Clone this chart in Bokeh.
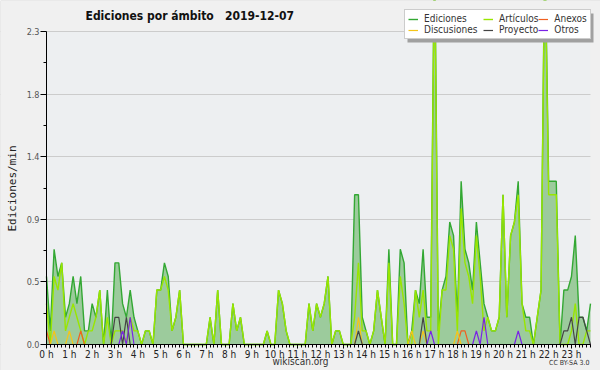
import math
from bokeh.plotting import figure
from bokeh.models import (ColumnDataSource, FixedTicker, PrintfTickFormatter,
                          Legend, LegendItem, Label, Range1d, BoxAnnotation)
from bokeh.embed import file_html
from bokeh.resources import INLINE

# time of each 10-minute bin (minutes after midnight)
minutes = list(range(0, 1440, 10))

ediciones = [
    0.5, 0.1, 0.7, 0.5, 0.6, 0.2, 0.3, 0.5, 0.3, 0.5, 0.1, 0.1,
    0.3, 0.2, 0.4, 0.0, 0.4, 0.0, 0.6, 0.6, 0.3, 0.2, 0.4, 0.2,
    0.1, 0.0, 0.1, 0.1, 0.0, 0.4, 0.4, 0.6, 0.5, 0.1, 0.2, 0.4,
    0.0, 0.0, 0.0, 0.0, 0.0, 0.0, 0.0, 0.2, 0.0, 0.4, 0.0, 0.0,
    0.0, 0.3, 0.1, 0.2, 0.0, 0.0, 0.0, 0.0, 0.0, 0.0, 0.1, 0.0,
    0.0, 0.4, 0.3, 0.1, 0.0, 0.0, 0.0, 0.0, 0.0, 0.3, 0.1, 0.3,
    0.2, 0.3, 0.5, 0.0, 0.1, 0.1, 0.0, 0.0, 0.0, 1.1, 1.1, 0.2,
    0.1, 0.0, 0.1, 0.4, 0.2, 0.0, 0.7, 0.0, 0.0, 0.7, 0.6, 0.0,
    0.1, 0.4, 0.3, 0.7, 0.2, 0.2, 3.0, 0.1, 0.4, 0.5, 0.9, 0.8,
    0.2, 1.2, 0.7, 0.6, 0.4, 0.9, 0.6, 0.3, 0.2, 0.1, 0.1, 0.2,
    1.1, 0.2, 0.8, 0.9, 1.2, 0.3, 0.2, 0.2, 0.0, 0.2, 0.4, 3.0,
    1.2, 1.2, 1.2, 0.0, 0.4, 0.4, 0.5, 0.8, 0.2, 0.2, 0.1, 0.3,
]

articulos = [
    0.3, 0.0, 0.5, 0.4, 0.6, 0.1, 0.2, 0.3, 0.2, 0.1, 0.0, 0.1,
    0.1, 0.2, 0.4, 0.0, 0.2, 0.0, 0.1, 0.1, 0.1, 0.0, 0.2, 0.1,
    0.1, 0.0, 0.1, 0.1, 0.0, 0.4, 0.4, 0.5, 0.4, 0.1, 0.2, 0.4,
    0.0, 0.0, 0.0, 0.0, 0.0, 0.0, 0.0, 0.2, 0.0, 0.4, 0.0, 0.0,
    0.0, 0.3, 0.1, 0.2, 0.0, 0.0, 0.0, 0.0, 0.0, 0.0, 0.1, 0.0,
    0.0, 0.4, 0.3, 0.1, 0.0, 0.0, 0.0, 0.0, 0.0, 0.3, 0.1, 0.3,
    0.2, 0.3, 0.5, 0.0, 0.1, 0.1, 0.0, 0.0, 0.0, 0.2, 0.6, 0.1,
    0.1, 0.0, 0.1, 0.4, 0.2, 0.0, 0.6, 0.0, 0.0, 0.5, 0.3, 0.0,
    0.0, 0.4, 0.2, 0.4, 0.1, 0.1, 2.9, 0.0, 0.4, 0.4, 0.8, 0.7,
    0.1, 1.0, 0.6, 0.5, 0.3, 0.8, 0.5, 0.1, 0.2, 0.1, 0.1, 0.2,
    1.1, 0.2, 0.8, 0.9, 1.1, 0.3, 0.1, 0.1, 0.0, 0.2, 0.4, 2.9,
    1.1, 1.1, 1.1, 0.0, 0.0, 0.0, 0.1, 0.3, 0.0, 0.0, 0.1, 0.1,
]

anexos = [
    0.1, 0.0, 0.0, 0.0, 0.0, 0.0, 0.0, 0.0, 0.0, 0.1, 0.0, 0.0,
    0.0, 0.0, 0.0, 0.0, 0.0, 0.0, 0.0, 0.0, 0.0, 0.0, 0.0, 0.0,
    0.0, 0.0, 0.0, 0.0, 0.0, 0.0, 0.0, 0.0, 0.0, 0.0, 0.0, 0.0,
    0.0, 0.0, 0.0, 0.0, 0.0, 0.0, 0.0, 0.0, 0.0, 0.0, 0.0, 0.0,
    0.0, 0.0, 0.0, 0.0, 0.0, 0.0, 0.0, 0.0, 0.0, 0.0, 0.0, 0.0,
    0.0, 0.0, 0.0, 0.0, 0.0, 0.0, 0.0, 0.0, 0.0, 0.0, 0.0, 0.0,
    0.0, 0.0, 0.0, 0.0, 0.0, 0.0, 0.0, 0.0, 0.0, 0.0, 0.0, 0.0,
    0.0, 0.0, 0.0, 0.0, 0.0, 0.0, 0.0, 0.0, 0.0, 0.0, 0.0, 0.0,
    0.0, 0.0, 0.0, 0.0, 0.0, 0.0, 0.0, 0.0, 0.0, 0.0, 0.0, 0.0,
    0.0, 0.1, 0.1, 0.0, 0.0, 0.0, 0.0, 0.0, 0.0, 0.0, 0.0, 0.0,
    0.0, 0.0, 0.0, 0.0, 0.0, 0.0, 0.0, 0.0, 0.0, 0.0, 0.0, 0.0,
    0.0, 0.0, 0.0, 0.0, 0.0, 0.0, 0.0, 0.0, 0.0, 0.0, 0.0, 0.0,
]

discusiones = [
    0.0, 0.0, 0.1, 0.0, 0.0, 0.0, 0.1, 0.0, 0.0, 0.0, 0.0, 0.0,
    0.0, 0.0, 0.0, 0.0, 0.0, 0.0, 0.0, 0.0, 0.0, 0.0, 0.0, 0.0,
    0.0, 0.0, 0.0, 0.0, 0.0, 0.0, 0.0, 0.0, 0.0, 0.0, 0.0, 0.0,
    0.0, 0.0, 0.0, 0.0, 0.0, 0.0, 0.0, 0.0, 0.0, 0.0, 0.0, 0.0,
    0.0, 0.0, 0.0, 0.0, 0.0, 0.0, 0.0, 0.0, 0.0, 0.0, 0.0, 0.0,
    0.0, 0.0, 0.0, 0.0, 0.0, 0.0, 0.0, 0.0, 0.0, 0.0, 0.0, 0.0,
    0.0, 0.0, 0.0, 0.0, 0.0, 0.0, 0.0, 0.0, 0.0, 0.0, 0.2, 0.0,
    0.0, 0.0, 0.0, 0.0, 0.0, 0.0, 0.0, 0.0, 0.0, 0.0, 0.0, 0.0,
    0.1, 0.0, 0.0, 0.1, 0.0, 0.0, 0.0, 0.0, 0.0, 0.0, 0.0, 0.0,
    0.1, 0.0, 0.0, 0.0, 0.0, 0.0, 0.0, 0.0, 0.0, 0.0, 0.0, 0.0,
    0.0, 0.0, 0.0, 0.0, 0.0, 0.0, 0.0, 0.0, 0.0, 0.0, 0.0, 0.0,
    0.0, 0.0, 0.0, 0.0, 0.0, 0.0, 0.0, 0.0, 0.0, 0.0, 0.0, 0.0,
]

proyecto = [
    0.0, 0.0, 0.0, 0.0, 0.0, 0.0, 0.0, 0.0, 0.0, 0.0, 0.0, 0.0,
    0.0, 0.0, 0.0, 0.0, 0.0, 0.0, 0.2, 0.2, 0.0, 0.2, 0.0, 0.0,
    0.0, 0.0, 0.0, 0.0, 0.0, 0.0, 0.0, 0.0, 0.0, 0.0, 0.0, 0.0,
    0.0, 0.0, 0.0, 0.0, 0.0, 0.0, 0.0, 0.0, 0.0, 0.0, 0.0, 0.0,
    0.0, 0.0, 0.0, 0.0, 0.0, 0.0, 0.0, 0.0, 0.0, 0.0, 0.0, 0.0,
    0.0, 0.0, 0.0, 0.0, 0.0, 0.0, 0.0, 0.0, 0.0, 0.0, 0.0, 0.0,
    0.0, 0.0, 0.0, 0.0, 0.0, 0.0, 0.0, 0.0, 0.0, 0.0, 0.1, 0.0,
    0.0, 0.0, 0.0, 0.0, 0.0, 0.0, 0.0, 0.0, 0.0, 0.0, 0.0, 0.0,
    0.0, 0.0, 0.0, 0.2, 0.0, 0.0, 0.0, 0.0, 0.0, 0.0, 0.0, 0.0,
    0.0, 0.0, 0.0, 0.0, 0.0, 0.0, 0.0, 0.0, 0.0, 0.0, 0.0, 0.0,
    0.0, 0.0, 0.0, 0.0, 0.0, 0.0, 0.0, 0.0, 0.0, 0.0, 0.0, 0.0,
    0.0, 0.0, 0.0, 0.0, 0.1, 0.1, 0.2, 0.0, 0.2, 0.2, 0.1, 0.0,
]

otros = [
    0.0, 0.0, 0.0, 0.0, 0.0, 0.0, 0.0, 0.0, 0.0, 0.0, 0.0, 0.0,
    0.0, 0.0, 0.0, 0.0, 0.0, 0.0, 0.0, 0.0, 0.1, 0.0, 0.2, 0.0,
    0.0, 0.0, 0.0, 0.0, 0.0, 0.0, 0.0, 0.0, 0.0, 0.0, 0.0, 0.0,
    0.0, 0.0, 0.0, 0.0, 0.0, 0.0, 0.0, 0.0, 0.0, 0.0, 0.0, 0.0,
    0.0, 0.0, 0.0, 0.0, 0.0, 0.0, 0.0, 0.0, 0.0, 0.0, 0.0, 0.0,
    0.0, 0.0, 0.0, 0.0, 0.0, 0.0, 0.0, 0.0, 0.0, 0.0, 0.0, 0.0,
    0.0, 0.0, 0.0, 0.0, 0.0, 0.0, 0.0, 0.0, 0.0, 0.0, 0.0, 0.0,
    0.0, 0.0, 0.0, 0.0, 0.0, 0.0, 0.0, 0.0, 0.0, 0.0, 0.0, 0.0,
    0.0, 0.0, 0.0, 0.0, 0.0, 0.1, 0.0, 0.0, 0.0, 0.0, 0.0, 0.0,
    0.0, 0.0, 0.0, 0.0, 0.0, 0.1, 0.0, 0.2, 0.0, 0.0, 0.0, 0.0,
    0.0, 0.0, 0.0, 0.0, 0.1, 0.0, 0.0, 0.0, 0.0, 0.0, 0.0, 0.0,
    0.0, 0.0, 0.0, 0.0, 0.0, 0.0, 0.0, 0.0, 0.0, 0.0, 0.0, 0.0,
]

hour_ticks = list(range(24))
y_ticks = [0.0, 0.46, 0.92, 1.38, 1.84, 2.3]
y_minor = [0.23, 0.69, 1.15, 1.61, 2.07]
Y_MAX = 2.3

FONT = "DejaVu Sans Condensed"
BG_OUT = "#f0f0f0"
BG_PLOT = "#edeff1"

hours = [m / 60 for m in minutes]
X_END = hours[-1]
src = ColumnDataSource(dict(h=hours, ed=ediciones, art=articulos, anx=anexos,
                            dis=discusiones, pro=proyecto, otr=otros))

# layout in pixels (figure is W x H; plot area spans L..W-R and T..H-B)
W, H = 600, 370
L, R, T, B = 46, 10, 31, 26
px_x = (W - L - R) / X_END
px_y = (H - T - B) / Y_MAX


def to_x(px):
    return (px - L) / px_x


def to_y(py):
    return (H - B - py) / px_y


p = figure(width=W, height=H, output_backend="svg", toolbar_location=None,
           x_range=Range1d(to_x(0), to_x(W)), y_range=Range1d(to_y(H), to_y(0)),
           min_border=0, title=None)
p.background_fill_color = BG_OUT
p.border_fill_color = BG_OUT
p.outline_line_color = None

# plot-area background (drawn before the grid)
plot_bg = BoxAnnotation(left=0, right=X_END, bottom=0, top=Y_MAX,
                        fill_color=BG_PLOT, fill_alpha=1, line_color=None,
                        level="underlay")
p.center = [plot_bg] + list(p.center)

p.varea(x="h", y1=0, y2="ed", source=src, fill_color="#9ccb9c")
r_ed = p.line("h", "ed", source=src, line_color="#33a833", line_width=1.4)
r_art = p.line("h", "art", source=src, line_color="#99e600", line_width=1.4)
r_anx = p.line("h", "anx", source=src, line_color="#f06020", line_width=1.2)
r_dis = p.line("h", "dis", source=src, line_color="#f5c518", line_width=1.2)
r_pro = p.line("h", "pro", source=src, line_color="#444444", line_width=1.2)
r_otr = p.line("h", "otr", source=src, line_color="#7a22e6", line_width=1.2)

# grid lines only within the plot area: mask the side margins (under the axes)
p.xgrid.grid_line_color = None
p.ygrid.grid_line_color = "#cccccc"
p.ygrid.ticker = FixedTicker(ticks=y_ticks)
p.add_layout(BoxAnnotation(right=0, fill_color=BG_OUT, fill_alpha=1,
                           line_color=None, level="underlay"))
p.add_layout(BoxAnnotation(left=X_END, fill_color=BG_OUT, fill_alpha=1,
                           line_color=None, level="underlay"))
# clip the peaks at the top of the value range
p.add_layout(BoxAnnotation(left=0, bottom=Y_MAX + 0.004, fill_color=BG_OUT,
                           fill_alpha=1, line_color=None))

# axes placed at the data origin
xa = p.xaxis[0]
xa.fixed_location = 0
xa.bounds = (0, X_END)
xa.ticker = FixedTicker(ticks=hour_ticks, minor_ticks=hours)
xa.formatter = PrintfTickFormatter(format="%d h")
xa.major_label_text_font = FONT
xa.major_label_text_font_size = "10px"
xa.major_label_text_color = "#222222"
xa.major_label_standoff = 0
xa.major_tick_out = 4
xa.major_tick_in = 0
xa.minor_tick_out = 3
xa.minor_tick_in = 0
xa.axis_line_color = "black"

ya = p.yaxis[0]
ya.fixed_location = 0
ya.bounds = (0, Y_MAX)
ya.ticker = FixedTicker(ticks=y_ticks, minor_ticks=y_minor)
ya.formatter = PrintfTickFormatter(format="%.1f")
ya.major_label_text_font = FONT
ya.major_label_text_font_size = "9px"
ya.major_label_text_color = "#555555"
ya.major_label_standoff = 1
ya.major_tick_out = 6
ya.major_tick_in = 0
ya.minor_tick_out = 3
ya.minor_tick_in = 0

p.add_layout(Label(x=12, y=H - 188, x_units="screen", y_units="screen",
                   text="Ediciones/min", angle=math.pi / 2,
                   text_font="DejaVu Sans Mono", text_font_size="11px",
                   text_color="#222222", text_align="center",
                   text_baseline="middle"))

# legend shadow, then the legend box itself
LEG_X0, LEG_Y_TOP, LEG_X1, LEG_Y_BOT = 404, 10, 590, 39
p.add_layout(BoxAnnotation(left=to_x(LEG_X0 + 3), right=to_x(LEG_X1 + 3),
                           top=to_y(LEG_Y_TOP + 3), bottom=to_y(LEG_Y_BOT + 3),
                           fill_color="#a0a0a0", fill_alpha=1, line_color=None))

legend = Legend(items=[
    LegendItem(label="Ediciones", renderers=[r_ed]),
    LegendItem(label="Discusiones\u00a0\u00a0", renderers=[r_dis]),
    LegendItem(label="Artículos", renderers=[r_art]),
    LegendItem(label="Proyecto", renderers=[r_pro]),
    LegendItem(label="Anexos", renderers=[r_anx]),
    LegendItem(label="Otros", renderers=[r_otr]),
], location=(LEG_X0, H - LEG_Y_BOT), orientation="vertical", nrows=2)
legend.background_fill_color = "white"
legend.background_fill_alpha = 1.0
legend.border_line_color = "#999999"
legend.label_text_font = FONT
legend.label_text_font_size = "10px"
legend.label_text_color = "#333333"
legend.label_height = 10
legend.glyph_height = 10
legend.glyph_width = 10
legend.label_standoff = 6
legend.spacing = 0
legend.padding = 3
legend.margin = 0
p.add_layout(legend)

p.add_layout(Label(x=85, y=H - 15, x_units="screen", y_units="screen",
                   text="Ediciones por ámbito\u00a0\u00a0 2019-12-07",
                   text_font=FONT, text_font_size="12px", text_font_style="bold",
                   text_color="#111111", text_baseline="middle"))
p.add_layout(Label(x=300, y=H - 361, x_units="screen", y_units="screen",
                   text="wikiscan.org", text_font=FONT, text_font_size="10px",
                   text_color="#333333", text_align="center",
                   text_baseline="middle"))
p.add_layout(Label(x=589, y=H - 362, x_units="screen", y_units="screen",
                   text="CC BY-SA 3.0", text_font=FONT, text_font_size="7px",
                   text_color="#333333", text_align="right",
                   text_baseline="middle"))
# thin frame around the whole picture
p.add_layout(BoxAnnotation(fill_alpha=0, line_color="#a8a8a8", line_width=1,
                           level="overlay"))

open("out.html", "w").write(file_html(p, INLINE))
